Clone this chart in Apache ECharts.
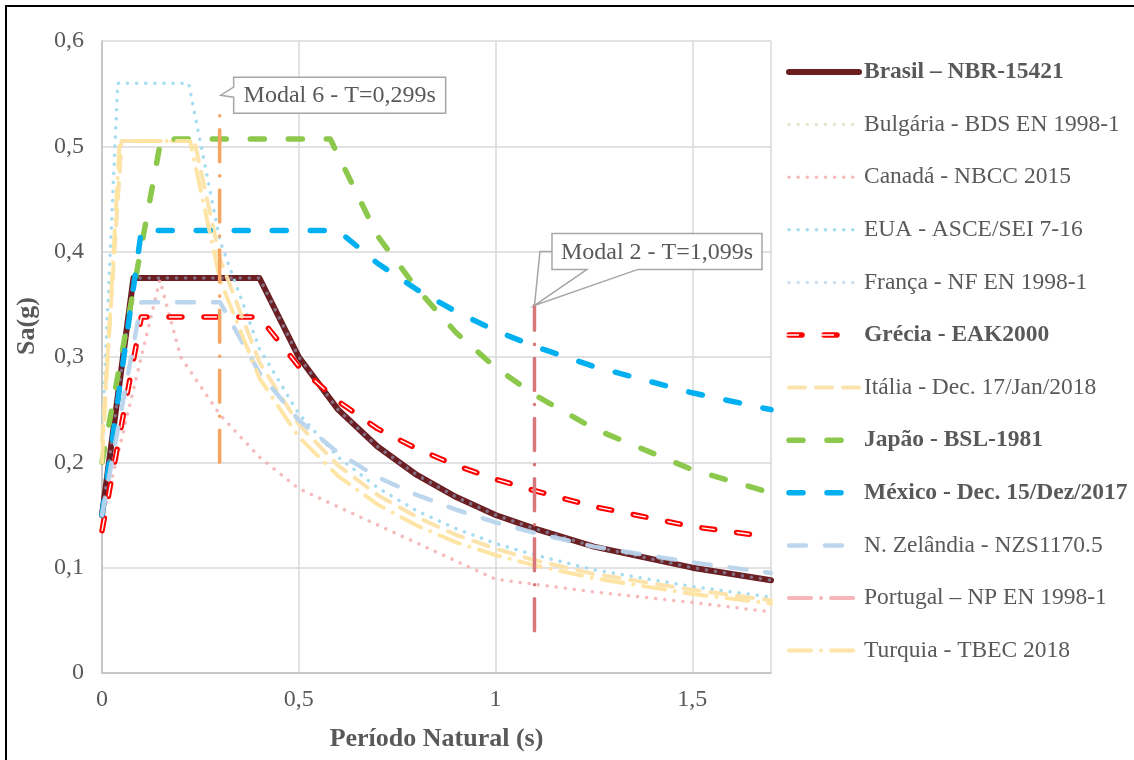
<!DOCTYPE html>
<html><head><meta charset="utf-8">
<script src="https://cdn.jsdelivr.net/npm/echarts@6/dist/echarts.min.js"></script>
<style>html,body{margin:0;padding:0;background:#fff}#c{width:1134px;height:760px}</style>
</head><body><div id="c"></div>
<script>
const FONT = '"Liberation Serif","Times New Roman",serif';
const TXT = '#595959';

// Period T (s), Sa (g)
const brasil   = [[0,0.15],[0.08,0.375],[0.4,0.375],[0.5,0.30],[0.6,0.25],[0.7,0.215],[0.8,0.188],[0.9,0.167],[1.0,0.15],[1.1,0.137],[1.25,0.12],[1.5,0.10],[1.7,0.088]];
const bulgaria = [[0,0.15],[0.08,0.375],[0.4,0.375],[0.5,0.30],[0.6,0.25],[0.7,0.215],[0.8,0.188],[0.9,0.167],[1.0,0.15],[1.1,0.137],[1.25,0.12],[1.5,0.10],[1.7,0.088]];
const canada   = [[0,0.145],[0.147,0.373],[0.2,0.30],[0.3,0.245],[0.4,0.205],[0.5,0.175],[0.75,0.132],[1.0,0.089],[1.25,0.077],[1.5,0.067],[1.7,0.058]];
const eua      = [[0,0.224],[0.04,0.56],[0.22,0.56],[0.3,0.41],[0.4,0.308],[0.5,0.246],[0.6,0.205],[0.7,0.176],[0.8,0.154],[0.9,0.137],[1.0,0.123],[1.1,0.112],[1.25,0.098],[1.5,0.082],[1.7,0.072]];
const franca   = [[0,0.15],[0.08,0.375],[0.4,0.375],[0.5,0.30],[0.6,0.25],[0.7,0.215],[0.8,0.188],[0.9,0.167],[1.0,0.15],[1.1,0.137],[1.25,0.12],[1.5,0.10],[1.7,0.088]];
const grecia   = [[0,0.135],[0.1,0.338],[0.4,0.338],[0.5,0.291],[0.6,0.258],[0.7,0.232],[0.8,0.213],[0.9,0.197],[1.0,0.184],[1.1,0.173],[1.25,0.158],[1.5,0.139],[1.7,0.129]];
const italia   = [[0,0.22],[0.05,0.505],[0.235,0.505],[0.3,0.393],[0.4,0.295],[0.5,0.236],[0.6,0.197],[0.7,0.169],[0.8,0.148],[0.9,0.131],[1.0,0.118],[1.1,0.107],[1.25,0.094],[1.5,0.079],[1.7,0.069]];
const japao    = [[0,0.2],[0.15,0.507],[0.58,0.507],[0.7,0.415],[0.8,0.365],[0.9,0.323],[1.0,0.29],[1.1,0.264],[1.25,0.232],[1.5,0.193],[1.7,0.171]];
const mexico   = [[0,0.15],[0.1,0.42],[0.6,0.42],[0.7,0.389],[0.8,0.364],[0.9,0.343],[1.0,0.325],[1.1,0.31],[1.25,0.291],[1.5,0.266],[1.7,0.25]];
const nzelandia= [[0,0.15],[0.1,0.352],[0.3,0.352],[0.4,0.285],[0.5,0.24],[0.6,0.209],[0.7,0.186],[0.8,0.169],[0.9,0.155],[1.0,0.143],[1.1,0.133],[1.25,0.12],[1.5,0.105],[1.7,0.095]];
const portugal = [[0,0.15],[0.08,0.375],[0.4,0.375],[0.5,0.30],[0.6,0.25],[0.7,0.215],[0.8,0.188],[0.9,0.167],[1.0,0.15],[1.1,0.137],[1.25,0.12],[1.5,0.10],[1.7,0.088]];
const turquia  = [[0,0.2],[0.045,0.505],[0.224,0.505],[0.3,0.373],[0.4,0.28],[0.5,0.224],[0.6,0.187],[0.7,0.16],[0.8,0.14],[0.9,0.124],[1.0,0.112],[1.1,0.102],[1.25,0.09],[1.5,0.075],[1.7,0.066]];
const modal6   = [[0.299,0.2],[0.299,0.54]];
const modal2   = [[1.099,0.04],[1.099,0.349]];

const names = ['Brasil – NBR-15421','Bulgária - BDS EN 1998-1','Canadá - NBCC 2015','EUA - ASCE/SEI 7-16','França - NF EN 1998-1','Grécia - EAK2000','Itália - Dec. 17/Jan/2018','Japão - BSL-1981','México - Dec. 15/Dez/2017','N. Zelândia - NZS1170.5','Portugal – NP EN 1998-1','Turquia - TBEC 2018'];
const boldNames = new Set(['Brasil – NBR-15421','Grécia - EAK2000','Japão - BSL-1981','México - Dec. 15/Dez/2017']);
const callout6 = 'Modal 6 - T=0,299s';
const callout2 = 'Modal 2 - T=1,099s';
const xTicks = [0,0.5,1,1.5];

function ln(name, data, color, width, type, cap, extra) {
  return Object.assign({
    name, type:'line', data, symbol:'none', showSymbol:false, smooth:false, animation:false,
    lineStyle:{color, width, type, cap: cap || 'round', join:'round'},
    itemStyle:{color}, emphasis:{disabled:true}
  }, extra || {});
}

const GR_DASH = [13,22];
const series = [
  ln(names[0], brasil, '#6B1F22', 6, 'solid'),
  ln(names[1], bulgaria, '#DCEAD0', 3.5, [0.1,9], 'round', {z:1}),
  ln(names[2], canada, 'rgba(242,170,172,0.8)', 3.5, [0.1,9]),
  ln(names[3], eua, 'rgba(160,218,240,0.95)', 3.5, [0.1,9]),
  ln(names[4], franca, 'rgba(155,194,230,0.5)', 3.5, [0.1,9]),
  ln(names[5], grecia, '#FF0000', 5.5, GR_DASH),
  ln('__grecia_inner', grecia, '#FFFFFF', 1.4, GR_DASH, 'butt'),
  ln(names[6], italia, 'rgba(252,226,168,0.95)', 4, [16,11]),
  ln(names[7], japao, '#8CC84B', 5.5, [14,24]),
  ln(names[8], mexico, '#00B0F0', 5.5, [14,24]),
  ln(names[9], nzelandia, 'rgba(184,212,236,0.95)', 4.5, [17,19]),
  ln(names[10], portugal, '#F4B6B8', 4, [22,10,0.1,10], 'round', {z:1}),
  ln(names[11], turquia, 'rgba(255,228,160,0.95)', 4, [22,10,0.1,10]),
  ln('__modal6', modal6, '#F6A462', 3.5, [32,14,0.1,14]),
  ln('__modal2', modal2, '#D7777A', 3.5, [32,14,0.1,14])
];

const LEG_LEFT = 781, LEG_TOP = 54, LEG_IH = 26, LEG_GAP = 26.6, LEG_IW = 70;
const chart = echarts.init(document.getElementById('c'), null, {renderer:'canvas'});
chart.setOption({
  backgroundColor:'#fff',
  animation:false,
  grid:{left:102, right:363, top:41, bottom:87, containLabel:false},
  xAxis:{
    type:'value', min:0, max:1.7, interval:0.5,
    name:'Período Natural (s)', nameLocation:'middle', nameGap:53,
    nameTextStyle:{fontFamily:FONT, fontSize:26, fontWeight:'bold', color:TXT},
    axisLine:{show:true, lineStyle:{color:'#BFBFBF', width:1.5}},
    axisTick:{show:false},
    axisLabel:{margin:15, fontFamily:FONT, fontSize:24, color:TXT, showMaxLabel:false,
      formatter:v => xTicks.some(t => Math.abs(t-v)<1e-9) ? String(v).replace('.',',') : ''},
    splitLine:{show:true, lineStyle:{color:'#D9D9D9', width:1.5}}
  },
  yAxis:{
    type:'value', min:0, max:0.6, interval:0.1,
    axisLine:{show:true, lineStyle:{color:'#BFBFBF', width:1.5}},
    axisTick:{show:false},
    axisLabel:{margin:18, fontFamily:FONT, fontSize:24, color:TXT,
      formatter:v => v===0 ? '0' : v.toFixed(1).replace('.',',')},
    splitLine:{show:true, lineStyle:{color:'#D9D9D9', width:1.5}}
  },
  legend:{
    orient:'vertical', left:LEG_LEFT, top:LEG_TOP, itemWidth:LEG_IW, itemHeight:14, itemGap:LEG_GAP,
    selectedMode:false, data:names,
    itemStyle:{opacity:0},
    lineStyle:{width:'inherit', type:'inherit', cap:'inherit'},
    textStyle:{fontFamily:FONT, fontSize:23.5, color:TXT, lineHeight:LEG_IH,
      rich:{b:{fontFamily:FONT, fontSize:23.5, fontWeight:'bold', color:TXT, lineHeight:LEG_IH},
            n:{fontFamily:FONT, fontSize:23.5, color:TXT, lineHeight:LEG_IH}}},
    formatter:n => boldNames.has(n) ? '{b|'+n+'}' : '{n|'+n+'}'
  },
  series
});

const p6 = chart.convertToPixel({xAxisIndex:0, yAxisIndex:0}, modal6[1]);
const p2 = chart.convertToPixel({xAxisIndex:0, yAxisIndex:0}, modal2[1]);
const tip6 = [p6[0]+1, p6[1]-9];
const b6 = {l:p6[0]+14, r:p6[0]+226, t:p6[1]-27, b:p6[1]+9};
const b2 = {l:p2[0]+17.5, r:p2[0]+227.5, t:p2[1]-72, b:p2[1]-36};
const stroke = '#A6A6A6';
// white inner stroke of the Greek legend sample
const grIdx = names.indexOf('Grécia - EAK2000');
const grY = LEG_TOP + 5 + LEG_IH/2 + grIdx*(LEG_IH+LEG_GAP);
chart.setOption({
  graphic:[
    {id:'border', type:'rect', shape:{x:6, y:6, width:1200, height:800}, style:{fill:null, stroke:'#000', lineWidth:2}, z:200, silent:true},
    {id:'ylab', type:'text', x:27, y:326, rotation:Math.PI/2, z:150,
      style:{text:'Sa(g)', fontFamily:FONT, fontSize:26, fontWeight:'bold', fill:TXT, align:'center', verticalAlign:'middle'}},
    {id:'grleg', type:'line', z:150, silent:true,
      shape:{x1:LEG_LEFT+5, y1:grY, x2:LEG_LEFT+5+LEG_IW, y2:grY},
      style:{stroke:'#fff', lineWidth:1.4, lineDash:GR_DASH}},
    {id:'c6box', type:'polygon', z:150,
      shape:{points:[[b6.l,b6.t],[b6.r,b6.t],[b6.r,b6.b],[b6.l,b6.b],[b6.l,b6.t+20],[tip6[0],tip6[1]],[b6.l,b6.t+10]]},
      style:{fill:'#fff', stroke, lineWidth:1.5}},
    {id:'c6txt', type:'text', x:(b6.l+b6.r)/2, y:(b6.t+b6.b)/2+1, z:151,
      style:{text:callout6, fontFamily:FONT, fontSize:24, fill:TXT, align:'center', verticalAlign:'middle'}},
    {id:'c2box', type:'polygon', z:150,
      shape:{points:[[b2.l,b2.t],[b2.r,b2.t],[b2.r,b2.b],[b2.l+86,b2.b],[p2[0],p2[1]],[b2.l+35,b2.b],[b2.l,b2.b]]},
      style:{fill:'#fff', stroke, lineWidth:1.5}},
    {id:'c2lead', type:'polyline', z:150,
      shape:{points:[[b2.l,(b2.t+b2.b)/2],[b2.l-12,(b2.t+b2.b)/2],[p2[0],p2[1]]]},
      style:{fill:null, stroke, lineWidth:1.5}},
    {id:'c2txt', type:'text', x:(b2.l+b2.r)/2, y:(b2.t+b2.b)/2+1, z:151,
      style:{text:callout2, fontFamily:FONT, fontSize:24, fill:TXT, align:'center', verticalAlign:'middle'}}
  ]
});
</script></body></html>
